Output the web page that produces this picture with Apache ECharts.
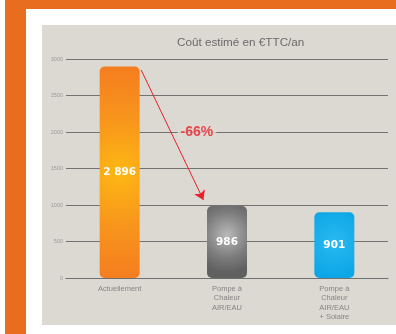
<!DOCTYPE html>
<html>
<head>
<meta charset="utf-8">
<script src="https://cdn.jsdelivr.net/npm/echarts@6/dist/echarts.min.js"></script>
<style>
  html, body { margin: 0; padding: 0; background: #ffffff; }
  #chart { width: 396px; height: 334px; }
</style>
</head>
<body>
<div id="chart"></div>
<script>
// Annual cost per heating solution (€ TTC / year)
const categories = ['Actuellement', 'Pompe à\nChaleur\nAIR/EAU', 'Pompe à\nChaleur\nAIR/EAU\n+ Solaire'];
const costs = [2896, 986, 901];
const yTicks = [0, 500, 1000, 1500, 2000, 2500, 3000];

// Savings from current setup to heat pump
const savingPct = Math.round((1 - costs[1] / costs[0]) * 100);

const barFills = [
  { type: 'radial', x: 0.5, y: 0.5, r: 2.9, colorStops: [
    { offset: 0, color: '#fdb813' }, { offset: 0.45, color: '#f8961c' }, { offset: 1, color: '#f47920' } ] },
  { type: 'radial', x: 0.5, y: 0.4, r: 0.95, colorStops: [
    { offset: 0, color: '#b9b9b9' }, { offset: 0.6, color: '#7c7c7c' }, { offset: 1, color: '#606060' } ] },
  { type: 'radial', x: 0.5, y: 0.45, r: 0.9, colorStops: [
    { offset: 0, color: '#2ab9f1' }, { offset: 1, color: '#0ba6e6' } ] }
];

function fmt(v) {
  return String(v).replace(/\B(?=(\d{3})+(?!\d))/g, ' ');
}

const chart = echarts.init(document.getElementById('chart'), null, { renderer: 'canvas' });

chart.setOption({
  animation: false,
  textStyle: { fontFamily: 'Liberation Sans, Arial, sans-serif' },
  graphic: [
    { type: 'rect', z: -10, silent: true, shape: { x: 5, y: 0, width: 391, height: 9 }, style: { fill: '#e96d1f' } },
    { type: 'rect', z: -10, silent: true, shape: { x: 5, y: 0, width: 21, height: 334 }, style: { fill: '#e96d1f' } },
    { type: 'rect', z: -10, silent: true, shape: { x: 42, y: 25, width: 354, height: 300 }, style: { fill: '#dcd9d3' } }
  ],
  title: {
    text: 'Coût estimé en €TTC/an',
    left: 172,
    top: 32,
    textStyle: { fontSize: 11.7, fontWeight: 'normal', color: '#6a6a6a', fontFamily: 'Liberation Sans, Arial, sans-serif' }
  },
  grid: { left: 66, right: 8, top: 59, bottom: 56, containLabel: false },
  xAxis: [
    {
      type: 'category',
      data: categories,
      axisLine: { show: true, lineStyle: { color: '#707070', width: 1.2 } },
      axisTick: { show: false },
      axisLabel: { color: '#858585', fontSize: 7.5, lineHeight: 9.5, margin: 6, interval: 0 }
    },
    { type: 'value', min: -0.5, max: 2.5, show: false }
  ],
  yAxis: {
    type: 'value',
    min: yTicks[0],
    max: yTicks[yTicks.length - 1],
    interval: yTicks[1] - yTicks[0],
    axisLine: { show: false },
    axisTick: { show: false },
    axisLabel: { color: '#9a9a9a', fontSize: 5.5, margin: 3, formatter: v => String(v) },
    splitLine: { lineStyle: { color: '#727272', width: 1.2 } }
  },
  series: [
    {
      type: 'bar',
      barWidth: 40,
      data: costs.map((v, i) => ({ value: v, itemStyle: { color: barFills[i] } })),
      itemStyle: { borderRadius: 5 },
      label: {
        show: true,
        position: 'inside',
        color: '#ffffff',
        fontWeight: 'bold',
        fontSize: 10.5,
        fontFamily: 'DejaVu Sans, sans-serif',
        formatter: p => fmt(p.value)
      }
    },
    {
      type: 'scatter',
      xAxisIndex: 1,
      symbolSize: 0,
      silent: true,
      data: [[0.72, 2000]],
      label: {
        show: true,
        position: 'inside',
        formatter: '-' + savingPct + '%',
        color: '#e8202a',
        fontSize: 14,
        fontWeight: 'bold',
        fontFamily: 'Liberation Sans, Arial, sans-serif',
        backgroundColor: '#dcd9d3',
        padding: [1, 3]
      },
      markLine: {
        silent: true,
        symbol: ['none', 'arrow'],
        symbolSize: 9,
        lineStyle: { color: '#e8202a', type: 'solid', width: 1, opacity: 1 },
        label: { show: false },
        data: [[{ coord: [0.2, 2850] }, { coord: [0.78, 1070] }]]
      },
      z: 5
    }
  ]
});
</script>
</body>
</html>
